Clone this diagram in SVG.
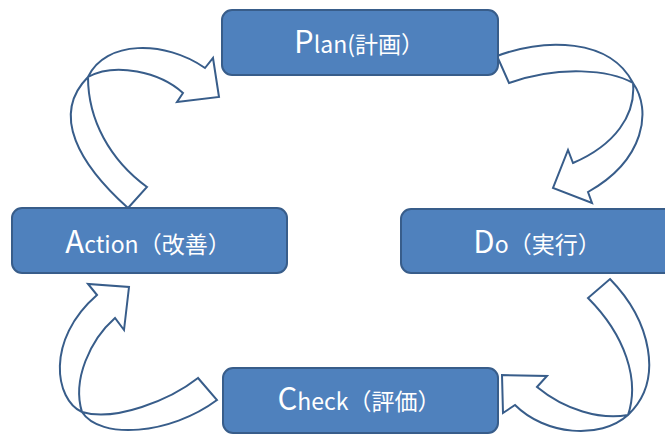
<svg xmlns="http://www.w3.org/2000/svg" width="665" height="437" viewBox="0 0 665 437">
<style>
.box{fill:#4F81BD;stroke:#385D8A;stroke-width:2}
.lbl{fill:#ffffff;font-family:"Noto Sans CJK JP","Noto Sans",sans-serif;font-size:23px;text-anchor:middle}
.big{font-size:31px}
.arr{fill:#ffffff;stroke:#385D8A;stroke-width:2;stroke-linejoin:miter}
</style>
<rect width="665" height="437" fill="#ffffff"/>
<g id="connectors">
<path class="arr" d="M497,56 C545,38 610,38 633,83 C636,115 615,145 573,163 L568,150 L553,188 L592,203 L588,192 C645,160 652,110 633,83 C610,70 560,65 509,83 Z"/>
<path class="arr" d="M128,208 C80,165 50,115 88,77 C105,40 165,40 205,68 L213,58 L219,97 L177,102 L183,93 C160,72 115,62 88,77 C88,120 110,160 147,187 Z"/>
<path class="arr" d="M198,378 C170,400 115,422 82,412 C55,400 45,340 97,295 L88,284 L129,287 L124,330 L115,318 C90,340 72,380 82,412 C100,440 170,435 217,400 Z"/>
<path class="arr" d="M610,279 C650,320 665,380 628,415 C600,420 565,410 537,387 L547,376 L502,375 L503,413 L515,405 C545,435 600,440 628,415 C640,380 625,335 588,298 Z"/>
</g>
<g id="plan">
<rect class="box" x="222" y="10" width="276" height="65" rx="10"/>
<text class="lbl" x="359" y="53"><tspan class="big">P</tspan>lan(計画）</text>
</g>
<g id="do">
<rect class="box" x="401" y="209" width="276" height="64" rx="10"/>
<text class="lbl" x="537" y="253"><tspan class="big">D</tspan>o（実行）</text>
</g>
<g id="check">
<rect class="box" x="223" y="368" width="275" height="65" rx="10"/>
<text class="lbl" x="359" y="410"><tspan class="big">C</tspan>heck（評価）</text>
</g>
<g id="action">
<rect class="box" x="12" y="208" width="275" height="65" rx="10"/>
<text class="lbl" x="148" y="253"><tspan class="big">A</tspan>ction（改善）</text>
</g>
</svg>
